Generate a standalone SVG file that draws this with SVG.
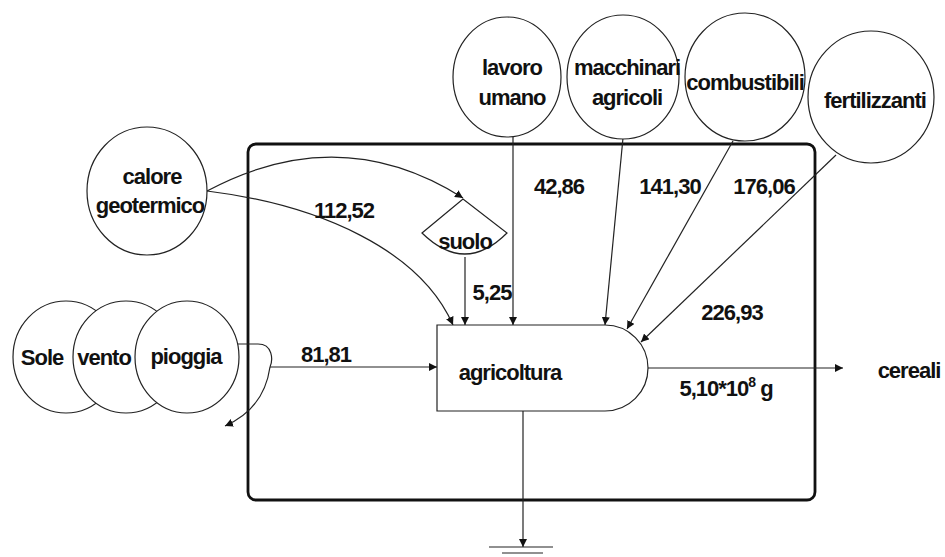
<svg xmlns="http://www.w3.org/2000/svg" width="945" height="557" viewBox="0 0 945 557">
<defs>
<marker id="ah" viewBox="0 0 10 10" refX="10" refY="5" markerWidth="8" markerHeight="8" markerUnits="userSpaceOnUse" orient="auto">
<path d="M0,0 L10,5 L0,10 Z" fill="#111"/>
</marker>
</defs>
<style>
text{font-family:"Liberation Sans",Arial,sans-serif;font-size:22px;font-weight:bold;fill:#111;text-anchor:middle;dominant-baseline:central;letter-spacing:-1px}
.src{fill:#fff;stroke:#222;stroke-width:1.2}
.c{fill:none;stroke:#222;stroke-width:1.2}
.a{fill:none;stroke:#222;stroke-width:1.2;marker-end:url(#ah)}
.frame{fill:none;stroke:#111;stroke-width:2.8}
</style>
<rect width="945" height="557" fill="#fff"/>

<g id="frame">
<rect class="frame" x="248" y="144" width="567" height="356" rx="8"/>
</g>

<g id="connectors">
<path class="a" d="M207,191 Q340,120 463,198"/>
<path class="a" d="M207,191 C320,205 420,250 453,325"/>
<path class="a" d="M465,257 V325"/>
<path class="a" d="M513,137 V325"/>
<path class="a" d="M623,138 L605,325"/>
<path class="a" d="M733,141 L627,329"/>
<path class="a" d="M836,155 L641,342"/>
<path class="c" d="M238,344 H258 C273,344 273,360 270,367"/>
<path class="a" d="M270,367 C266,395 250,415 225,426"/>
<path class="a" d="M270,367 H437"/>
<path class="a" d="M648,368 H843"/>
<path class="a" d="M523,411 V547"/>
</g>

<g id="calore">
<ellipse class="src" cx="147" cy="191" rx="60" ry="64"/>
<text x="152" y="176">calore</text>
<text x="150" y="205">geotermico</text>
</g>

<g id="lavoro">
<ellipse class="src" cx="507" cy="77" rx="54" ry="60"/>
<text x="512" y="67">lavoro</text>
<text x="512" y="97">umano</text>
</g>

<g id="macchinari">
<ellipse class="src" cx="623" cy="77" rx="56" ry="62"/>
<text x="627" y="67">macchinari</text>
<text x="627" y="97">agricoli</text>
</g>

<g id="combustibili">
<ellipse class="src" cx="745" cy="77" rx="60" ry="64"/>
<text x="745" y="82">combustibili</text>
</g>

<g id="fertilizzanti">
<ellipse class="src" cx="871" cy="97" rx="63" ry="66"/>
<text x="875" y="100">fertilizzanti</text>
</g>

<g id="sole">
<ellipse class="src" cx="66" cy="357" rx="53" ry="56"/>
<text x="42" y="357">Sole</text>
</g>
<g id="vento">
<ellipse class="src" cx="126" cy="357" rx="53" ry="56"/>
<text x="104" y="357">vento</text>
</g>
<g id="pioggia">
<ellipse class="src" cx="187" cy="357" rx="52" ry="56"/>
<text x="186" y="356">pioggia</text>
</g>

<g id="suolo">
<path class="src" d="M422,233 L463,199 L507,233 Q465,275 422,233 Z"/>
<text x="465" y="241">suolo</text>
</g>

<g id="agricoltura">
<path class="src" d="M437,325 H605 A43,43 0 0 1 605,411 H437 Z"/>
<text x="510" y="372">agricoltura</text>
</g>

<g id="cereali">
<text x="909" y="370">cereali</text>
</g>

<g id="ground">
<path class="c" d="M489,547 H553 M502,553 H543"/>
</g>

<g id="labels">
<text x="344" y="210">112,52</text>
<text x="559" y="186">42,86</text>
<text x="670" y="186">141,30</text>
<text x="764" y="186">176,06</text>
<text x="492" y="292">5,25</text>
<text x="732" y="312">226,93</text>
<text x="326" y="354">81,81</text>
<text x="726" y="388">5,10*10<tspan font-size="14" dy="-6">8</tspan><tspan dy="6"> g</tspan></text>
</g>
</svg>
